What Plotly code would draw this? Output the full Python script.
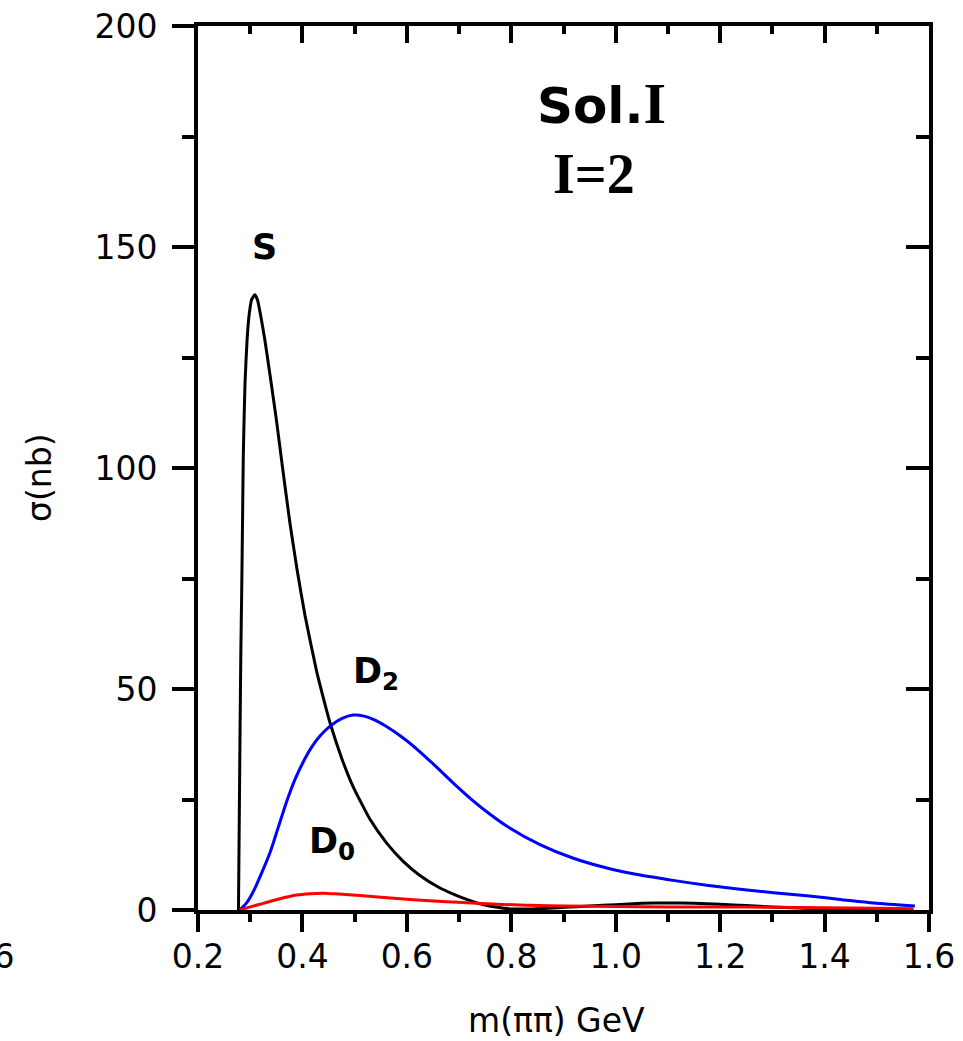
import plotly.graph_objects as go

# Partial-wave cross sections, I=2 (Sol. I)
s_mass = [0.2775, 0.279, 0.2805, 0.282, 0.2837, 0.2855, 0.2868, 0.290, 0.294, 0.2983,
          0.303, 0.309, 0.314, 0.320, 0.328, 0.338, 0.350, 0.362, 0.376, 0.390,
          0.405, 0.427, 0.440, 0.453, 0.475, 0.497, 0.530, 0.561, 0.593, 0.625,
          0.660, 0.689, 0.708, 0.740, 0.773, 0.800, 0.850, 0.900, 0.950, 1.000,
          1.050, 1.100, 1.150, 1.200, 1.250, 1.300, 1.350, 1.400, 1.450, 1.500, 1.570]
s_sigma = [0.0, 20.0, 40.0, 58.0, 72.0, 90.0, 103.0, 119.0, 129.0, 135.0,
           138.2, 139.2, 138.0, 134.5, 129.0, 121.0, 111.0, 100.0, 87.6, 76.8,
           66.6, 54.1, 48.0, 42.3, 34.4, 27.9, 20.4, 15.2, 11.0, 7.8,
           5.2, 3.6, 2.7, 1.4, 0.6, 0.25, 0.3, 0.6, 0.9, 1.2,
           1.5, 1.6, 1.5, 1.3, 1.0, 0.7, 0.45, 0.25, 0.1, 0.05, 0.0]

d2_mass = [0.280, 0.293, 0.306, 0.322, 0.338, 0.354, 0.370, 0.386, 0.402, 0.418,
           0.434, 0.453, 0.475, 0.497, 0.520, 0.540, 0.561, 0.593, 0.625, 0.660,
           0.690, 0.727, 0.760, 0.791, 0.855, 0.919, 0.983, 1.047, 1.110, 1.174,
           1.238, 1.302, 1.366, 1.430, 1.494, 1.573]
d2_sigma = [0.0, 1.6, 4.2, 8.4, 13.0, 18.8, 24.6, 29.6, 33.6, 36.9,
            39.4, 41.6, 43.3, 44.1, 43.8, 42.9, 41.5, 38.9, 35.8, 32.0,
            28.6, 24.7, 21.6, 19.0, 14.8, 11.7, 9.5, 7.9, 6.7, 5.6,
            4.7, 3.9, 3.2, 2.4, 1.6, 0.9]

d0_mass = [0.280, 0.300, 0.325, 0.355, 0.389, 0.415, 0.440, 0.470, 0.517, 0.581,
           0.644, 0.708, 0.772, 0.836, 0.900, 1.000, 1.100, 1.200, 1.300, 1.400,
           1.500, 1.570]
d0_sigma = [0.0, 0.7, 1.5, 2.5, 3.4, 3.7, 3.8, 3.6, 3.2, 2.6,
            2.1, 1.7, 1.3, 1.1, 0.9, 0.8, 0.7, 0.7, 0.6, 0.5,
            0.4, 0.3]

x_ticks = [0.2, 0.4, 0.6, 0.8, 1.0, 1.2, 1.4, 1.6]
x_tick_text = ["0.2", "0.4", "0.6", "0.8", "1.0", "1.2", "1.4", "1.6"]
y_ticks = [0, 50, 100, 150, 200]

SANS = "DejaVu Sans"
FS = 33

fig = go.Figure()
fig.add_trace(go.Scatter(x=s_mass, y=s_sigma, mode="lines",
                         line=dict(color="black", width=3, shape="spline", smoothing=0.5),
                         name="S"))
fig.add_trace(go.Scatter(x=d2_mass, y=d2_sigma, mode="lines",
                         line=dict(color="#0000ff", width=3, shape="spline", smoothing=0.7),
                         name="D2"))
fig.add_trace(go.Scatter(x=d0_mass, y=d0_sigma, mode="lines",
                         line=dict(color="#ff0000", width=3, shape="spline", smoothing=0.8),
                         name="D0"))
# invisible trace to activate the mirrored (top/right) axes
fig.add_trace(go.Scatter(x=[0.2], y=[0], xaxis="x2", yaxis="y2", mode="markers",
                         marker=dict(opacity=0), showlegend=False, hoverinfo="skip"))

axis_common = dict(showgrid=False, zeroline=False, showline=True, linecolor="black",
                   linewidth=4, tickcolor="black", tickwidth=3.5, automargin=False)

fig.update_layout(
    width=963, height=1041,
    margin=dict(l=198, r=34, t=26, b=131),
    paper_bgcolor="white", plot_bgcolor="white",
    showlegend=False,
    font=dict(family=SANS, color="black", size=FS),
    xaxis=dict(range=[0.2, 1.6], tickvals=x_ticks, ticktext=x_tick_text,
               ticks="outside", ticklen=18, ticklabelstandoff=-4,
               minor=dict(dtick=0.1, tick0=0.2, ticks="outside", ticklen=8,
                          tickwidth=3.5, tickcolor="black"),
               tickfont=dict(family=SANS, size=FS), **axis_common),
    yaxis=dict(range=[0, 200], tickvals=y_ticks, ticks="outside", ticklen=22,
               minor=dict(dtick=25, tick0=0, ticks="outside", ticklen=12,
                          tickwidth=3.5, tickcolor="black"),
               tickfont=dict(family=SANS, size=FS), ticklabelstandoff=8,
               **axis_common),
    xaxis2=dict(overlaying="x", side="top", matches="x", range=[0.2, 1.6],
                tickvals=x_ticks, ticks="inside", ticklen=17, showticklabels=False,
                minor=dict(dtick=0.1, tick0=0.2, ticks="inside", ticklen=8,
                           tickwidth=3.5, tickcolor="black"),
                **axis_common),
    yaxis2=dict(overlaying="y", side="right", matches="y", range=[0, 200],
                tickvals=y_ticks, ticks="inside", ticklen=23, showticklabels=False,
                minor=dict(dtick=25, tick0=0, ticks="inside", ticklen=13,
                           tickwidth=3.5, tickcolor="black"),
                **axis_common),
)


def px_x(p):
    return (p - 198) / 731


def px_y(p):
    return (910 - p) / 884


label_font = dict(family=SANS, size=35, color="black")
annotations = [
    dict(x=0.328, y=150, xref="x", yref="y", text="<b>S</b>", showarrow=False,
         font=label_font),
    dict(x=0.540, y=53.5, xref="x", yref="y", text="<b>D<sub>2</sub></b>",
         showarrow=False, font=label_font),
    dict(x=0.457, y=15.0, xref="x", yref="y", text="<b>D<sub>0</sub></b>",
         showarrow=False, font=label_font),
    dict(x=0.972, y=182.5, xref="x", yref="y",
         text="<b>Sol.<span style='font-family:Liberation Serif;font-size:58px'>I</span></b>",
         showarrow=False, font=dict(family=SANS, size=50, color="black")),
    dict(x=0.958, y=166.5, xref="x", yref="y", text="<b>I=2</b>", showarrow=False,
         font=dict(family="Liberation Serif", size=56, color="black")),
    # axis titles
    dict(x=px_x(556), y=px_y(1020), xref="paper", yref="paper",
         xanchor="center", yanchor="middle",
         text="m(ππ) GeV", showarrow=False, font=dict(family=SANS, size=FS)),
    dict(x=px_x(40), y=px_y(478), xref="paper", yref="paper",
         xanchor="center", yanchor="middle",
         text="σ(nb)", textangle=-90, showarrow=False, font=dict(family=SANS, size=FS)),
    # tick label of the neighbouring panel
    dict(x=px_x(16), y=px_y(956), xref="paper", yref="paper",
         xanchor="right", yanchor="middle",
         text="1.6", showarrow=False, font=dict(family=SANS, size=FS)),
]
fig.update_layout(annotations=annotations)

fig.write_html("out.html")
